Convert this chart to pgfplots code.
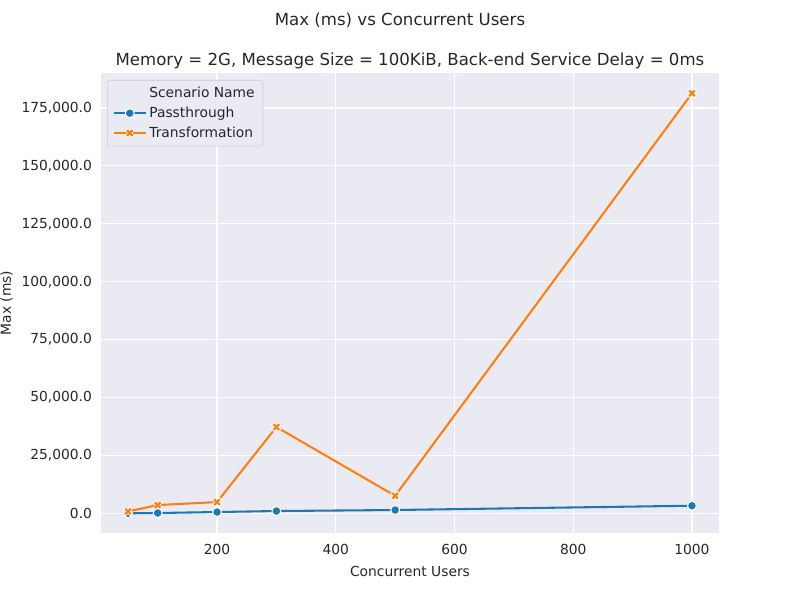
\documentclass[border=0pt]{standalone}
\usepackage{fontspec}
\setmainfont{DejaVu Sans}
\usepackage{pgfplots}
\pgfplotsset{compat=1.18}

\definecolor{sbbg}{HTML}{EAEAF2}
\definecolor{sbblue}{HTML}{1F77B4}
\definecolor{sborange}{HTML}{FF7F0E}
\definecolor{sbtext}{HTML}{262626}

% seaborn-like filled "X" marker with white edge
\pgfdeclareplotmark{fatx}{%
  \pgfsetbuttcap
  \pgfsetlinewidth{2.8pt}\pgfsetstrokecolor{white}
  \pgfpathmoveto{\pgfqpoint{-\pgfplotmarksize}{-\pgfplotmarksize}}
  \pgfpathlineto{\pgfqpoint{\pgfplotmarksize}{\pgfplotmarksize}}
  \pgfpathmoveto{\pgfqpoint{-\pgfplotmarksize}{\pgfplotmarksize}}
  \pgfpathlineto{\pgfqpoint{\pgfplotmarksize}{-\pgfplotmarksize}}
  \pgfusepathqstroke
  \pgfsetlinewidth{1.6pt}\pgfsetstrokecolor{sborange}
  \pgfpathmoveto{\pgfqpoint{-0.8\pgfplotmarksize}{-0.8\pgfplotmarksize}}
  \pgfpathlineto{\pgfqpoint{0.8\pgfplotmarksize}{0.8\pgfplotmarksize}}
  \pgfpathmoveto{\pgfqpoint{-0.8\pgfplotmarksize}{0.8\pgfplotmarksize}}
  \pgfpathlineto{\pgfqpoint{0.8\pgfplotmarksize}{-0.8\pgfplotmarksize}}
  \pgfusepathqstroke
}

\begin{document}
\begin{tikzpicture}
  % page = 800 x 600 px, 1px = 0.7227pt
  \path[use as bounding box] (0pt,0pt) rectangle (578.16pt,433.62pt);

  \begin{axis}[
      at={(72.99pt,48.42pt)}, anchor=south west,
      scale only axis,
      width=446.6pt, height=332.4pt,
      xmin=4.5, xmax=1045.5,
      ymin=-8450, ymax=190070,
      axis background/.style={fill=sbbg},
      axis line style={draw=none},
      major tick length=0pt,
      grid=major,
      major grid style={white, line width=0.8pt},
      xtick={200,400,600,800,1000},
      ytick={0,25000,50000,75000,100000,125000,150000,175000},
      scaled y ticks=false,
      yticklabel style={/pgf/number format/.cd, fixed, fixed zerofill, precision=1, 1000 sep={,}},
      xticklabel style={/pgf/number format/.cd, 1000 sep={}},
      /pgf/number format/assume math mode=true,
      tick label style={font=\fontsize{10}{12}\selectfont, text=sbtext},
      xticklabel shift=4.5pt, yticklabel shift=3pt,
      xlabel={Concurrent Users},
      ylabel={Max (ms)},
      label style={font=\fontsize{10}{12}\selectfont, text=sbtext},
      xlabel style={yshift=-1.5pt},
      ylabel style={yshift=-0.5pt},
      title={Memory = 2G, Message Size = 100KiB, Back-end Service Delay = 0ms},
      title style={font=\fontsize{12}{14}\selectfont, text=sbtext, yshift=-6.8pt},
      legend cell align=left,
      legend image code/.code={%
        \draw[mark repeat=2, mark phase=2] plot coordinates {(0cm,0cm) (0.4cm,0cm) (0.8cm,0cm)};},
      legend style={at={(0.01,0.985)}, anchor=north west,
        fill=sbbg, draw=black!20, rounded corners=2pt,
        font=\fontsize{10}{12}\selectfont, text=sbtext,
        row sep=1.2pt, inner xsep=4pt, inner ysep=3pt},
    ]
    \addlegendimage{empty legend}
    \addlegendentry{Scenario Name}

    \addplot[color=sbblue, line width=1.5pt, mark=*, mark size=3.2pt,
      mark options={fill=sbblue, draw=white, line width=0.7pt}]
      coordinates {
        (50,60) (100,170) (200,600) (300,1030) (500,1470) (1000,3320)
      };
    \addlegendentry{Passthrough}

    \addplot[color=sborange, line width=1.5pt, mark=fatx, mark size=2.6pt]
      coordinates {
        (50,860) (100,3600) (200,4900) (300,37300) (500,7600) (1000,181300)
      };
    \addlegendentry{Transformation}
  \end{axis}

  \node[font=\fontsize{12}{14}\selectfont, text=sbtext] at (289.08pt,419.17pt) {Max (ms) vs Concurrent Users};
\end{tikzpicture}
\end{document}
